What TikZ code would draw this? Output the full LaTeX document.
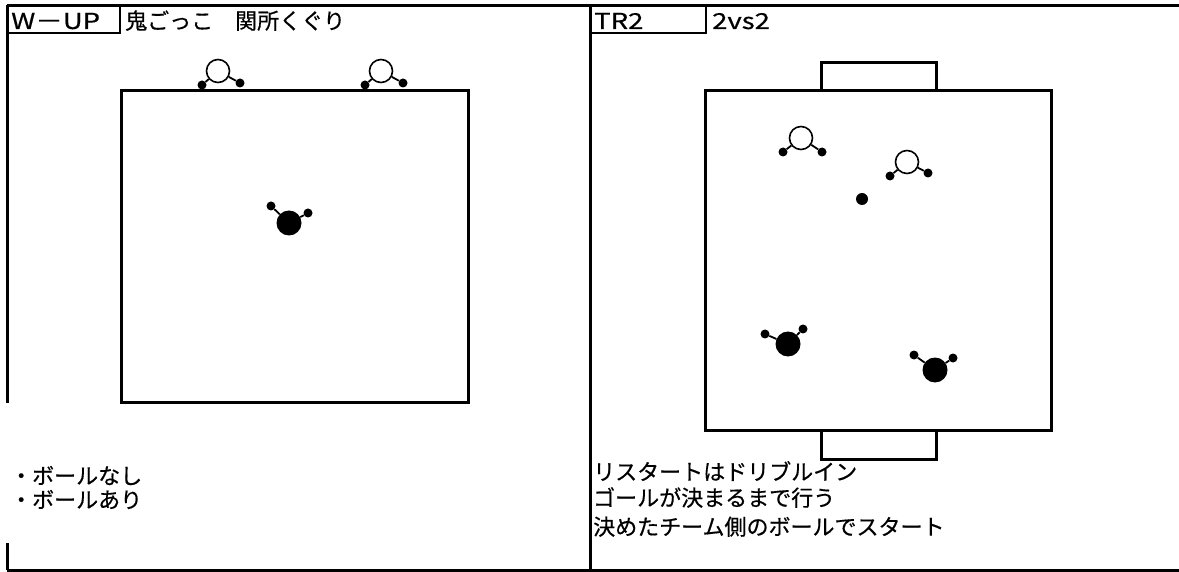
\documentclass[tikz,border=0pt]{standalone}
\usepackage{fontspec}
\setmainfont[FakeBold=0.5]{Noto Sans CJK JP}
\newfontfamily\latwide[FakeStretch=1.25,FakeBold=0.5]{Noto Sans CJK JP}
\begin{document}
\begin{tikzpicture}[x=1pt,y=-1pt,
  frame/.style={line width=3pt},
  field/.style={line width=3pt},
  lbox/.style={line width=2.4pt},
  txt/.style={inner sep=0pt,anchor=base west,font=\fontsize{22}{26}\selectfont},
  hollow/.style={circle,draw,line width=1.6pt,minimum size=23pt,inner sep=0pt},
  body/.style={circle,fill,minimum size=25pt,inner sep=0pt},
  ball/.style={circle,fill,minimum size=12pt,inner sep=0pt},
  hand/.style={circle,fill,minimum size=9pt,inner sep=0pt},
  arm/.style={line width=1.8pt}]
\useasboundingbox (0,0) rectangle (1179,572);
% frame
\draw[frame] (7,6) -- (1179,6);
\draw[frame] (7,570) -- (1179,570);
\draw[frame] (7,6) -- (7,403);
\draw[frame] (7,543) -- (7,570);
\draw[frame] (590,6) -- (590,570);
% label boxes
\draw[lbox] (7,6) rectangle (120,33);
\draw[lbox] (590,6) rectangle (706,33);
\node[txt] (t1) at (11,29) {\latwide W－UP};
\node[txt] (t2) at (125,29) {鬼ごっこ　関所くぐり};
\node[txt] (t3) at (594,29) {\latwide TR2};
\node[txt] (t4) at (712,29) {\latwide 2vs2};
% left field
\draw[field] (121,91) rectangle (468,402);
% right field and goals
\draw[field] (705,91) rectangle (1051,430);
\draw[field] (821,91) -- (821,63) -- (936,63) -- (936,91);
\draw[field] (821,430) -- (821,459) -- (936,459) -- (936,430);
% hollow players left
\node[hollow] (a1) at (218,71) {};
\node[hand] (a1l) at (202,85) {};
\node[hand] (a1r) at (240,83) {};
\draw[arm] (a1) -- (a1l); \draw[arm] (a1) -- (a1r);
\node[hollow] (a2) at (381,71) {};
\node[hand] (a2l) at (365,85) {};
\node[hand] (a2r) at (403,83) {};
\draw[arm] (a2) -- (a2l); \draw[arm] (a2) -- (a2r);
% black player left
\node[body] (b1) at (289,223) {};
\node[hand] (b1l) at (271,206) {};
\node[hand] (b1r) at (308,213) {};
\draw[arm] (b1) -- (b1l); \draw[arm] (b1) -- (b1r);
% hollow players right
\node[hollow] (a3) at (801,138) {};
\node[hand] (a3l) at (783,152) {};
\node[hand] (a3r) at (822,152) {};
\draw[arm] (a3) -- (a3l); \draw[arm] (a3) -- (a3r);
\node[hollow] (a4) at (907,162) {};
\node[hand] (a4l) at (890,176) {};
\node[hand] (a4r) at (928,173) {};
\draw[arm] (a4) -- (a4l); \draw[arm] (a4) -- (a4r);
% ball
\node[ball] (ballr) at (862,199) {};
% black players right
\node[body] (b2) at (788,344) {};
\node[hand] (b2l) at (765,334) {};
\node[hand] (b2r) at (803,329) {};
\draw[arm] (b2) -- (b2l); \draw[arm] (b2) -- (b2r);
\node[body] (b3) at (935,370) {};
\node[hand] (b3l) at (914,355) {};
\node[hand] (b3r) at (953,358) {};
\draw[arm] (b3) -- (b3l); \draw[arm] (b3) -- (b3r);
% notes
\node[txt] (n1) at (10,484) {・ボールなし};
\node[txt] (n2) at (10,508) {・ボールあり};
\node[txt] (n3) at (593,480) {リスタートはドリブルイン};
\node[txt] (n4) at (593,506) {ゴールが決まるまで行う};
\node[txt] (n5) at (593,535) {決めたチーム側のボールでスタート};
\end{tikzpicture}
\end{document}
